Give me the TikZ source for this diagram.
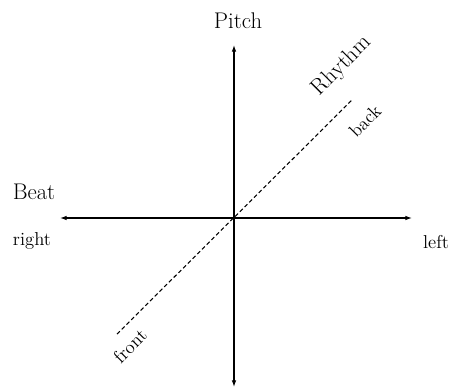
\documentclass[tikz,border=0pt]{standalone}
\usepackage{tikz}
\usetikzlibrary{arrows.meta}

\begin{document}
\begin{tikzpicture}[x=0.75pt,y=-0.75pt,>={Latex[length=5pt,width=3.5pt]},
    axislabel/.style={font=\fontsize{17}{19}\selectfont},
    sidelabel/.style={font=\fontsize{14}{16}\selectfont},
    axisline/.style={<->,line width=0.9pt},
    depthline/.style={densely dashed,line width=0.8pt}]
  \useasboundingbox (0,0) rectangle (450,389);
  % axes
  \coordinate (top) at (234,45);
  \coordinate (bottom) at (234,387);
  \coordinate (west) at (60,218);
  \coordinate (east) at (412,218);
  \coordinate (frontend) at (117,334);
  \coordinate (backend) at (353,99);
  \draw[axisline] (bottom) -- (top);
  \draw[axisline] (west) -- (east);
  \draw[depthline] (frontend) -- (backend);
  % labels
  \node[axislabel] (pitch) at (238,21) {Pitch};
  \node[axislabel,rotate=45] (rhythm) at (342,66) {Rhythm};
  \node[axislabel] (beat) at (34,192) {Beat};
  \node[sidelabel] (right) at (32,241) {right};
  \node[sidelabel] (left) at (436,242) {left};
  \node[sidelabel,rotate=45] (back) at (365,121) {back};
  \node[sidelabel,rotate=45] (front) at (130,346) {front};
\end{tikzpicture}
\end{document}
